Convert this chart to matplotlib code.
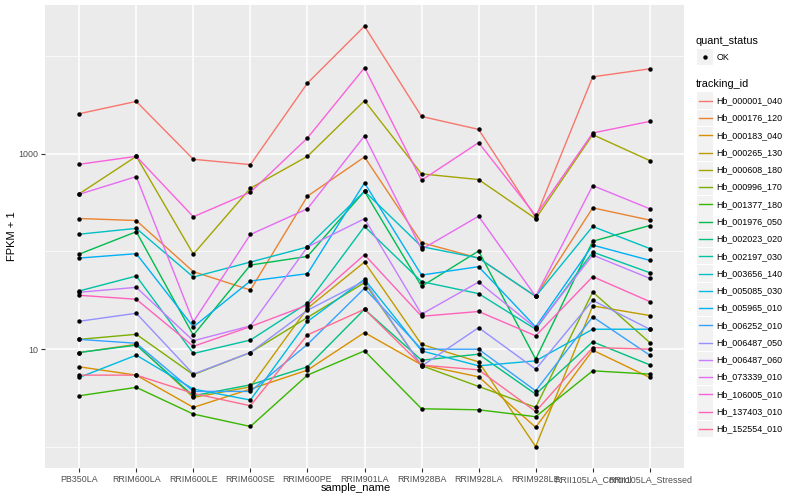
import matplotlib
matplotlib.use('Agg')
import matplotlib.pyplot as plt
from matplotlib.lines import Line2D
from matplotlib.patches import Rectangle
from matplotlib.ticker import FixedLocator, NullFormatter

sample_names = ['PB350LA', 'RRIM600LA', 'RRIM600LE', 'RRIM600SE', 'RRIM600PE', 'RRIM901LA',
                'RRIM928BA', 'RRIM928LA', 'RRIM928LE', 'RRII105LA_Control', 'RRII105LA_Stressed']

tracking_ids = ['Hb_000001_040', 'Hb_000176_120', 'Hb_000183_040', 'Hb_000265_130',
                'Hb_000608_180', 'Hb_000996_170', 'Hb_001377_180', 'Hb_001976_050',
                'Hb_002023_020', 'Hb_002197_030', 'Hb_003656_140', 'Hb_005085_030',
                'Hb_005965_010', 'Hb_006252_010', 'Hb_006487_050', 'Hb_006487_060',
                'Hb_073339_010', 'Hb_106005_010', 'Hb_137403_010', 'Hb_152554_010']

quant_status = ['OK']

# FPKM + 1, one list per gene, in sample_names order
hb_000001_040 = [2560, 3420, 875, 772, 5260, 20100, 2400, 1770, 222, 6100, 7370]
hb_000176_120 = [217, 207, 62.1, 40.3, 367, 925, 123, 85.5, 34.7, 279, 209]
hb_000183_040 = [6.60, 5.43, 2.54, 3.91, 6.11, 14.8, 6.92, 5.22, 1.59, 9.77, 5.14]
hb_000265_130 = [9.25, 11.2, 3.21, 4.12, 26.2, 77.8, 11.2, 7.42, 1.01, 27.7, 22.1]
hb_000608_180 = [388, 938, 93.8, 443, 938, 3475, 621, 543, 216, 1563, 849]
hb_000996_170 = [12.6, 14.2, 5.49, 9.25, 21.1, 47.9, 6.79, 4.16, 2.54, 38.4, 11.7]
hb_001377_180 = [3.34, 4.07, 2.17, 1.62, 5.43, 9.61, 2.46, 2.40, 2.04, 6.01, 5.56]
hb_001976_050 = [93.8, 159, 13.9, 72.5, 88.9, 412, 43.9, 101, 7.91, 127, 184]
hb_002023_020 = [9.25, 11.0, 3.34, 4.32, 6.60, 25.6, 7.72, 8.89, 3.47, 11.9, 6.92]
hb_002197_030 = [39.4, 56.0, 9.04, 12.4, 29.5, 180, 49.1, 37.0, 16.0, 98.4, 60.6]
hb_003656_140 = [150, 172, 54.7, 77.8, 111, 412, 112, 85.5, 34.7, 180, 107]
hb_005085_030 = [5.14, 8.69, 3.91, 3.02, 19.2, 51.8, 9.61, 6.76, 7.60, 16.0, 16.0]
hb_005965_010 = [85.5, 94.8, 16.9, 49.8, 59.2, 502, 57.3, 69.8, 16.9, 116, 81.0]
hb_006252_010 = [12.6, 11.5, 3.70, 3.70, 11.2, 41.9, 10.0, 10.0, 3.75, 21.4, 8.69]
hb_006487_050 = [19.3, 23.3, 5.56, 9.25, 25.0, 49.8, 6.71, 16.6, 6.25, 31.6, 16.0]
hb_006487_060 = [38.2, 42.9, 12.2, 17.3, 111, 216, 22.8, 48.6, 16.5, 91.7, 53.0]
hb_073339_010 = [384, 582, 19.0, 149, 273, 1517, 105, 229, 34.7, 471, 273]
hb_106005_010 = [778, 938, 226, 403, 1446, 7550, 534, 1295, 233, 1626, 2136]
hb_137403_010 = [35.6, 32.4, 10.7, 17.0, 28.3, 92.5, 21.7, 24.3, 13.7, 55.2, 30.7]
hb_152554_010 = [5.43, 5.43, 3.53, 2.64, 14.0, 25.6, 6.87, 6.15, 2.31, 10.4, 10.0]

series = [hb_000001_040, hb_000176_120, hb_000183_040, hb_000265_130, hb_000608_180,
          hb_000996_170, hb_001377_180, hb_001976_050, hb_002023_020, hb_002197_030,
          hb_003656_140, hb_005085_030, hb_005965_010, hb_006252_010, hb_006487_050,
          hb_006487_060, hb_073339_010, hb_106005_010, hb_137403_010, hb_152554_010]

# ggplot2 default hue palette for 20 levels
colors = ['#F8766D', '#EA8331', '#D89000', '#C09B00', '#A3A500', '#7CAE00', '#39B600',
          '#00BB4E', '#00BF7D', '#00C1A3', '#00BFC4', '#00BAE0', '#00B0F6', '#35A2FF',
          '#9590FF', '#C77CFF', '#E76BF3', '#FA62DB', '#FF62BC', '#FF6C91']

plt.rcParams['font.family'] = ['Liberation Sans', 'DejaVu Sans']

W, H = 800, 500
fig = plt.figure(figsize=(8, 5), dpi=100)


def fx(px):
  return px / W


def fy(py):
  return 1 - py / H


ax = fig.add_axes([fx(45), fy(468), (684 - 45) / W, (468 - 5) / H])
ax.set_facecolor('#EBEBEB')
for s in ax.spines.values():
  s.set_visible(False)

x = list(range(len(sample_names)))
for vals, col in zip(series, colors):
  ax.plot(x, vals, color=col, lw=1.0, zorder=2)
for vals in series:
  ax.plot(x, vals, 'o', color='black', ms=3.2, mec='none', zorder=3)

ax.set_yscale('log')
ax.set_ylim(10 ** -0.215, 10 ** 4.52)
ax.set_xlim(-0.6, len(sample_names) - 0.4)

ax.yaxis.set_major_locator(FixedLocator([10, 1000]))
ax.set_yticklabels(['10', '1000'])
ax.yaxis.set_minor_locator(FixedLocator([1, 100, 10000]))
ax.yaxis.set_minor_formatter(NullFormatter())
ax.set_xticks(x)
ax.set_xticklabels(sample_names)

ax.grid(True, which='major', color='white', lw=1.1, zorder=0)
ax.grid(True, which='minor', axis='y', color='white', lw=0.5, zorder=0)
ax.set_axisbelow(True)
ax.tick_params(which='major', length=3, width=0.8, color='#333333',
               labelsize=6.4, labelcolor='#4D4D4D', pad=2)
ax.tick_params(which='minor', length=0)

fig.text(fx(356), fy(488), 'sample_name', ha='center', va='center', fontsize=8)
fig.text(fx(12), fy(236), 'FPKM + 1', ha='center', va='center', fontsize=8, rotation=90)

# legend, drawn by hand in ggplot style
key_l, key_w, key_h = 697, 16, 16.5
fig.text(fx(696), fy(40.5), 'quant_status', ha='left', va='center', fontsize=7.8)
fig.patches.append(Rectangle((fx(key_l), fy(57 + key_h / 2)), key_w / W, key_h / H,
                             transform=fig.transFigure, facecolor='#F2F2F2', edgecolor='none'))
fig.lines.append(Line2D([fx(key_l + key_w / 2)], [fy(57)], marker='o', ms=3.2, color='black',
                        mec='none', transform=fig.transFigure))
fig.text(fx(716.5), fy(57), quant_status[0], ha='left', va='center', fontsize=6.4)

fig.text(fx(696), fy(84), 'tracking_id', ha='left', va='center', fontsize=7.8)
for i, (name, col) in enumerate(zip(tracking_ids, colors)):
  cy = 100.7 + i * 17.28
  fig.patches.append(Rectangle((fx(key_l), fy(cy + key_h / 2)), key_w / W, key_h / H,
                               transform=fig.transFigure, facecolor='#F2F2F2', edgecolor='none'))
  fig.lines.append(Line2D([fx(key_l + 1.5), fx(key_l + key_w - 1.5)], [fy(cy), fy(cy)],
                          color=col, lw=1.0, transform=fig.transFigure))
  fig.text(fx(716.5), fy(cy), name, ha='left', va='center', fontsize=6.4)

fig.savefig('out.png', dpi=100)
